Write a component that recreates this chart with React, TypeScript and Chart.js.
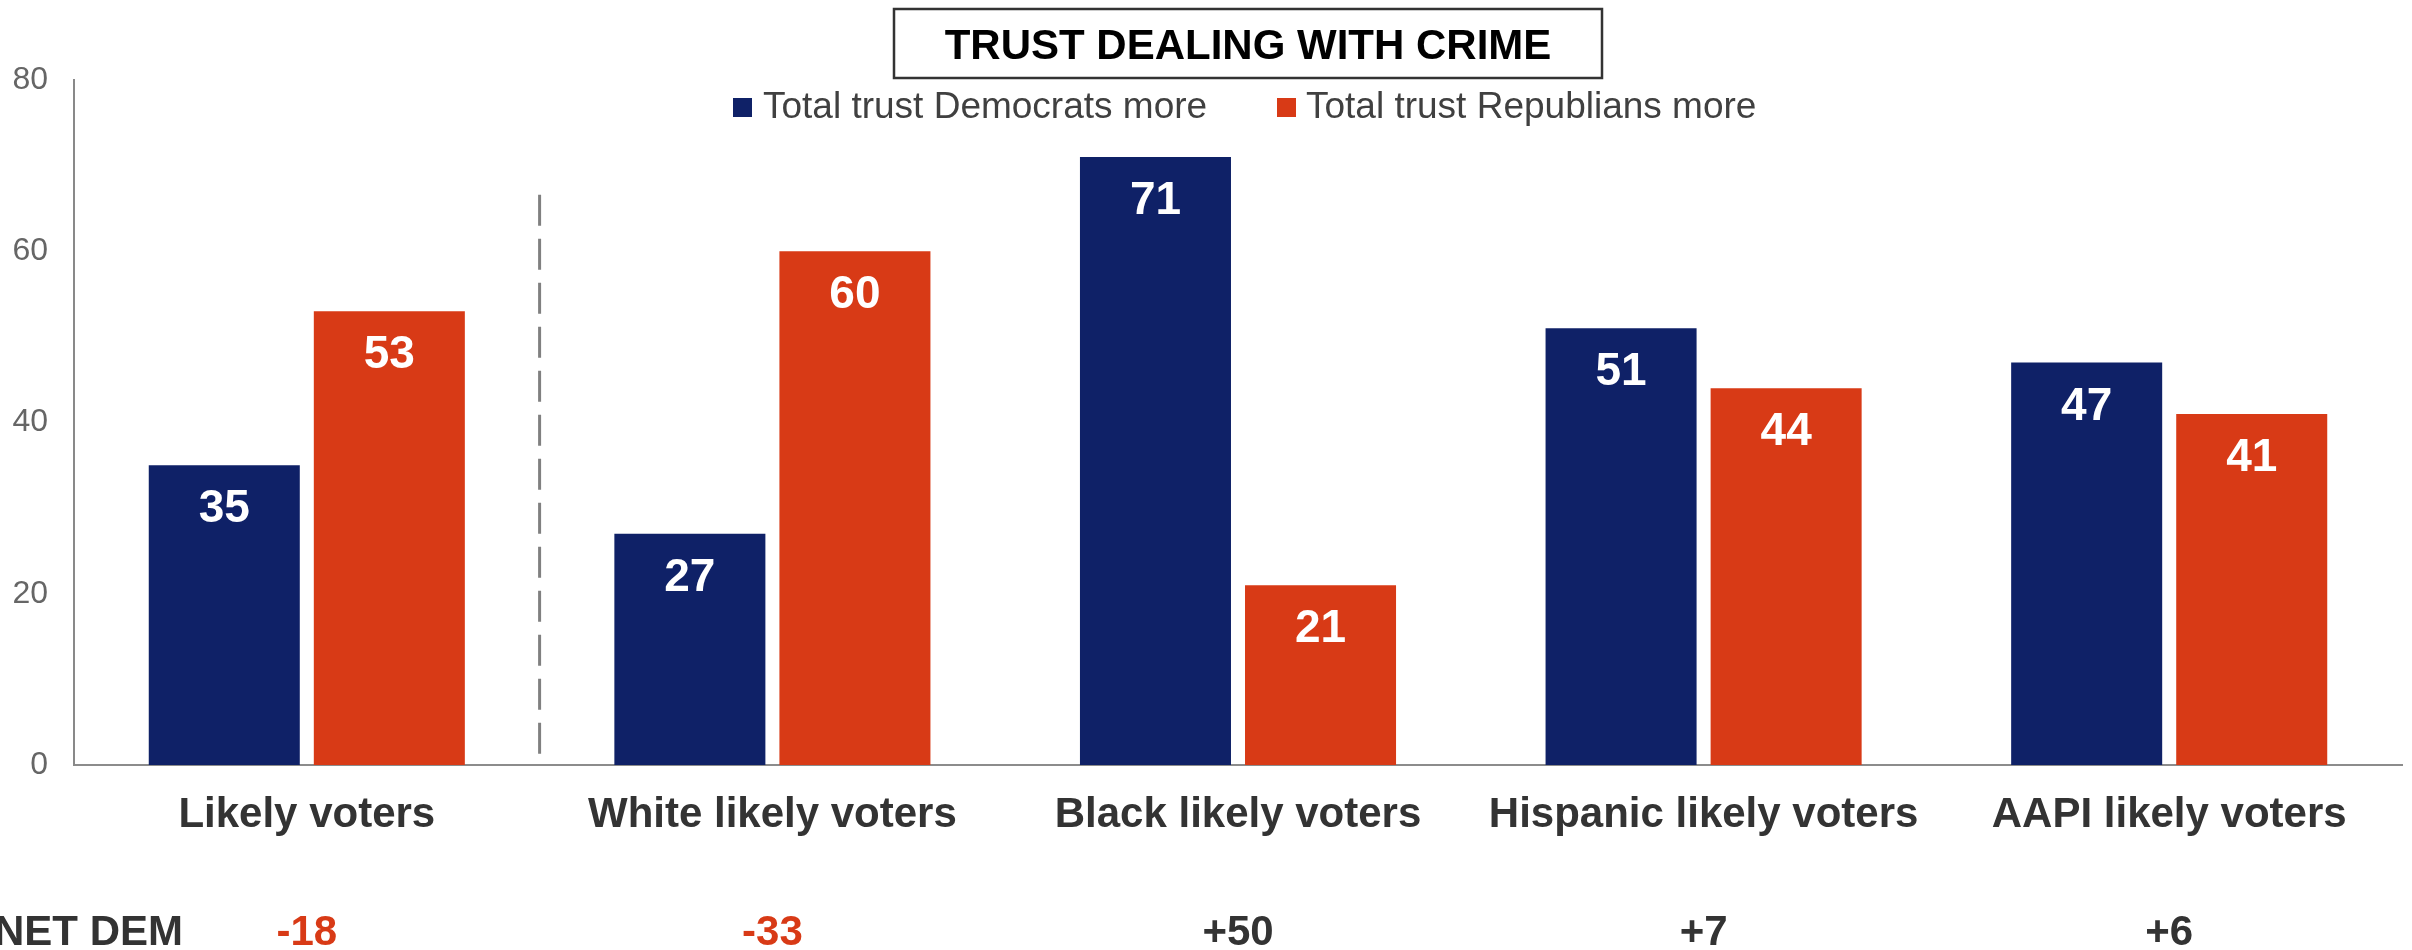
import React, { useEffect, useRef } from 'react';
import { Chart, registerables } from 'chart.js';

Chart.register(...registerables);

const chartTitle = 'TRUST DEALING WITH CRIME';
const categories = ['Likely voters', 'White likely voters', 'Black likely voters', 'Hispanic likely voters', 'AAPI likely voters'];
const demLabel = 'Total trust Democrats more';
const repLabel = 'Total trust Republians more';
const demValues = [35, 27, 71, 51, 47];
const repValues = [53, 60, 21, 44, 41];
const netDemTitle = 'NET DEM';
const netDemValues = ['-18', '-33', '+50', '+7', '+6'];
const yMin = 0;
const yMax = 80;
const yStep = 20;

const BLUE = '#0f2167';
const RED = '#d83a16';
const FONT = "'Liberation Sans', Arial, Helvetica, sans-serif";

const decorPlugin = {
  id: 'decor',
  afterDraw(chart: any) {
    const ctx = chart.ctx;
    const x = chart.scales.x;
    const y = chart.scales.y;
    ctx.save();

    // title box
    ctx.strokeStyle = '#333333';
    ctx.lineWidth = 2.5;
    ctx.strokeRect(894, 9, 708, 69);
    ctx.fillStyle = '#000000';
    ctx.font = `bold 42px ${FONT}`;
    ctx.textAlign = 'center';
    ctx.textBaseline = 'alphabetic';
    ctx.fillText(chartTitle, 1248, 59);

    // legend
    const ds = chart.data.datasets;
    const legendPos = [
      { box: 733, text: 763 },
      { box: 1277, text: 1306 },
    ];
    ctx.font = `37px ${FONT}`;
    ctx.textAlign = 'left';
    ds.forEach((d: any, i: number) => {
      ctx.fillStyle = d.backgroundColor;
      ctx.fillRect(legendPos[i].box, 98, 19, 19);
      ctx.fillStyle = '#404040';
      ctx.fillText(d.label, legendPos[i].text, 118);
    });

    // dashed separator between first and second category
    const sepX = (x.getPixelForValue(0) + x.getPixelForValue(1)) / 2;
    ctx.strokeStyle = '#808080';
    ctx.lineWidth = 3;
    ctx.setLineDash([31, 13]);
    ctx.beginPath();
    ctx.moveTo(sepX, y.getPixelForValue(66.6));
    ctx.lineTo(sepX, y.getPixelForValue(1.3));
    ctx.stroke();
    ctx.setLineDash([]);

    // bar value labels
    ctx.font = `bold 46px ${FONT}`;
    ctx.textAlign = 'center';
    ctx.fillStyle = '#ffffff';
    chart.data.datasets.forEach((d: any, di: number) => {
      const meta = chart.getDatasetMeta(di);
      meta.data.forEach((bar: any, i: number) => {
        ctx.fillText(String(d.data[i]), bar.x, bar.y + 57);
      });
    });

    // NET DEM row
    ctx.font = `bold 42px ${FONT}`;
    ctx.textAlign = 'left';
    ctx.fillStyle = '#333333';
    ctx.fillText(netDemTitle, -6, 945);
    ctx.textAlign = 'center';
    netDemValues.forEach((v, i) => {
      ctx.fillStyle = v.startsWith('-') ? RED : '#333333';
      ctx.fillText(v, x.getPixelForValue(i), 945);
    });

    ctx.restore();
  },
};

export default function App() {
  const canvasRef = useRef<HTMLCanvasElement | null>(null);

  useEffect(() => {
    document.body.style.margin = '0';
    const canvas = canvasRef.current;
    if (!canvas) return;
    const chart = new Chart(canvas, {
      type: 'bar',
      data: {
        labels: categories,
        datasets: [
          { label: demLabel, data: demValues, backgroundColor: BLUE, categoryPercentage: 0.709, barPercentage: 0.915 },
          { label: repLabel, data: repValues, backgroundColor: RED, categoryPercentage: 0.709, barPercentage: 0.915 },
        ],
      },
      options: {
        responsive: false,
        animation: false,
        devicePixelRatio: 1,
        layout: { padding: { top: 80, right: 10, left: 0, bottom: 0 } },
        plugins: {
          legend: { display: false },
          title: { display: false },
          tooltip: { enabled: false },
        },
        scales: {
          x: {
            grid: { display: false, drawTicks: false },
            border: { display: true, color: '#8c8c8c', width: 2 },
            ticks: { font: { family: FONT, size: 42, weight: 'bold' }, color: '#333333', padding: 25, maxRotation: 0 },
            afterFit: (s: any) => { s.height = 185; },
          },
          y: {
            min: yMin,
            max: yMax,
            grid: { display: false, drawTicks: false },
            border: { display: true, color: '#898989', width: 2 },
            ticks: { stepSize: yStep, font: { family: FONT, size: 32 }, color: '#666666', padding: 26 },
            afterFit: (s: any) => { s.width = 74; },
          },
        },
      },
      plugins: [decorPlugin],
    });
    return () => chart.destroy();
  }, []);

  return (
    <div style={{ width: 2412, height: 950 }}>
      <canvas ref={canvasRef} width={2412} height={950} style={{ display: 'block' }} />
    </div>
  );
}
